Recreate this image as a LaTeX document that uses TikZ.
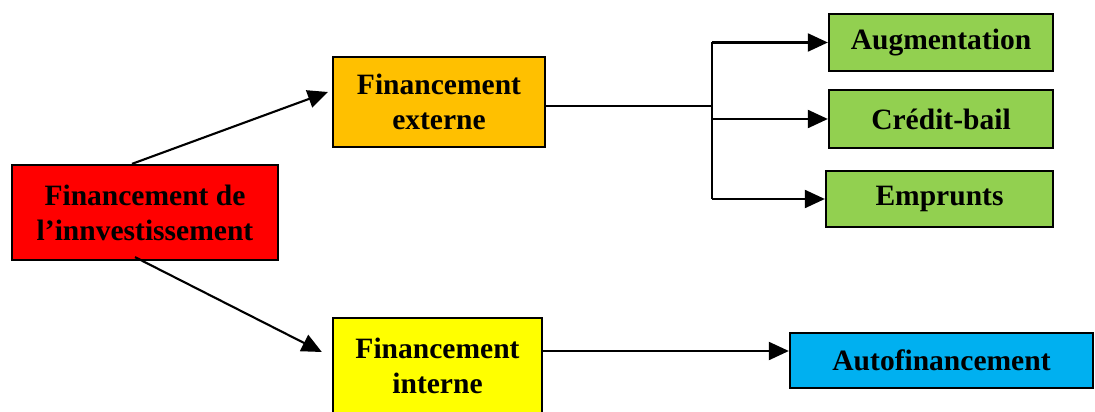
\documentclass[tikz,border=0pt]{standalone}
\usepackage{fontspec}
\setmainfont{Liberation Serif}
\usepackage{xcolor}
\usepackage{tikz}
\usetikzlibrary{shapes,arrows,positioning,calc,arrows.meta}

\definecolor{finred}{HTML}{FF0000}
\definecolor{finorange}{HTML}{FFC000}
\definecolor{finyellow}{HTML}{FFFF00}
\definecolor{fingreen}{HTML}{92D050}
\definecolor{finblue}{HTML}{00B0F0}

\begin{document}
\begin{tikzpicture}[x=0.025cm, y=-0.025cm,
        finbox/.style={
                draw,
                rectangle,
                line width=1.6pt,
                inner sep=0pt,
                align=center,
                font=\bfseries\fontsize{21}{25}\selectfont,
        },
        arr/.style={-{Triangle[length=0.5cm,width=0.45cm]}, line width=1.5pt},
        link/.style={line width=1.5pt, line join=round}]
            \useasboundingbox (0,0) rectangle (1095,412);
            \clip (0,0) rectangle (1095,412);
            \node[finbox, fill=finred, minimum width=6.65cm, minimum height=2.375cm] (inv) at (145,212.5) {Financement de\\l'innvestissement};
            \node[finbox, fill=finorange, minimum width=5.3cm, minimum height=2.25cm] (ext) at (439,102) {Financement\\externe};
            \node[finbox, fill=finyellow, minimum width=5.225cm, minimum height=2.4cm] (int) at (437.5,366) {Financement\\interne};
            \node[finbox, fill=fingreen, minimum width=5.6cm, minimum height=1.425cm] (aug) at (941,42.5) {Augmentation};
            \node[finbox, fill=fingreen, minimum width=5.6cm, minimum height=1.45cm] (cb) at (941,119) {Crédit-bail};
            \node[finbox, fill=fingreen, minimum width=5.675cm, minimum height=1.4cm] (emp) at (939.5,199) {Emprunts};
            \node[finbox, fill=finblue, minimum width=7.575cm, minimum height=1.375cm] (auto) at (941.5,360.5) {Autofinancement};

            % from the root
            \draw[arr] ($(inv.north)+(-13,0)$) -- ($(ext.west)+(-4,-10)$);
            \draw[arr] ($(inv.south)+(-10,-4)$) -- ($(int.west)+(-10,-14)$);

            % external branch
            \coordinate (bus) at (712,106);
            \draw[link] (ext.east |- bus) -- (bus);
            \draw[link] (aug.west -| bus) -- (emp.west -| bus);
            \foreach \n in {aug,cb,emp}
                \draw[arr] (\n.west -| bus) -- (\n.west);

            % internal branch
            \coordinate (a1) at ($(int.east)+(-2,-15)$);
            \draw[arr] (a1) -- (a1 -| auto.west);
        \end{tikzpicture}
\end{document}
